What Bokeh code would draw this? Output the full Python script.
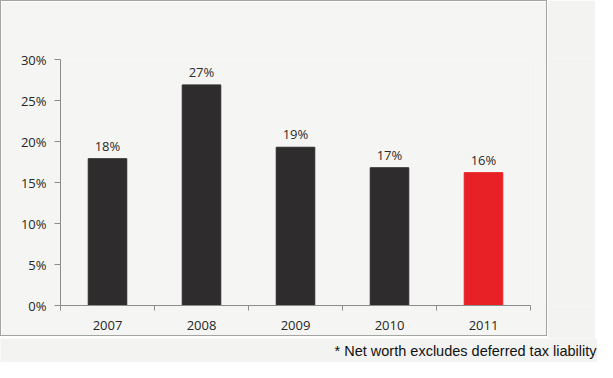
from bokeh.plotting import figure
from bokeh.models import (Range1d, FixedTicker, PrintfTickFormatter, CustomJSTickFormatter,
                          Label, LabelSet, ColumnDataSource)
from bokeh.layouts import column, row
from bokeh.core.properties import value
from bokeh.embed import file_html
from bokeh.resources import INLINE
import numpy as np

years = ["2007", "2008", "2009", "2010", "2011"]
values = [17.9, 26.9, 19.3, 16.8, 16.2]
bar_colors = ["#2e2c2d", "#2e2c2d", "#2e2c2d", "#2e2c2d", "#e82127"]
value_labels = [f"{round(v)}%" for v in values]
y_ticks = [0, 5, 10, 15, 20, 25, 30]
footnote = "* Net worth excludes deferred tax liability"

xs = list(np.arange(len(years)) + 0.5)
bounds = list(range(len(years) + 1))

page_bg = "#f3f3f1"
box_bg = "#f5f6f3"

src = ColumnDataSource(dict(x=xs, top=values, color=bar_colors, label=value_labels))

p = figure(width=547, height=336, output_backend="svg", toolbar_location=None,
           x_range=Range1d(0, len(years)), y_range=Range1d(0, 30),
           min_border_left=59, min_border_right=18, min_border_top=58, min_border_bottom=32,
           styles={"border": "1px solid #a2a5a2"})
p.outline_line_color = None
p.grid.visible = False
p.background_fill_color = box_bg
p.border_fill_color = box_bg

p.vbar(x="x", top="top", width=0.41, color="color", source=src)

labels = LabelSet(x="x", y="top", text="label", source=src, text_align="center",
                  text_baseline="alphabetic", y_offset=8,
                  text_font=value("Open Sans"), text_font_size=value("13px"),
                  text_color=value("#2b2b2b"))
p.add_layout(labels)

axis_col = "#8c8c8c"
lbl_col = "#262626"

xa = p.xaxis[0]
xa.ticker = FixedTicker(ticks=xs, minor_ticks=bounds)
xa.formatter = CustomJSTickFormatter(args=dict(years=years),
                                     code="return years[Math.floor(tick)];")
xa.axis_line_color = axis_col
xa.major_tick_line_color = None
xa.minor_tick_line_color = axis_col
xa.minor_tick_in = 0
xa.minor_tick_out = 5
xa.major_label_standoff = 9
xa.major_label_text_font = "Open Sans"
xa.major_label_text_font_size = "13px"
xa.major_label_text_color = lbl_col

ya = p.yaxis[0]
ya.ticker = FixedTicker(ticks=y_ticks, minor_ticks=[])
ya.formatter = PrintfTickFormatter(format="%d%%")
ya.axis_line_color = axis_col
ya.major_tick_line_color = axis_col
ya.major_tick_in = 0
ya.major_tick_out = 6
ya.minor_tick_line_color = None
ya.major_label_standoff = 8
ya.major_label_text_font = "Open Sans"
ya.major_label_text_font_size = "13px"
ya.major_label_text_color = lbl_col

# background strip to the right of the box
s = figure(width=48, height=338, output_backend="svg", toolbar_location=None,
           x_axis_location=None, y_axis_location=None, min_border=0,
           x_range=Range1d(0, 1), y_range=Range1d(0, 1))
s.grid.visible = False
s.outline_line_color = None
s.background_fill_color = page_bg
s.border_fill_color = page_bg

# footnote strip below the box
q = figure(width=597, height=24, output_backend="svg", toolbar_location=None,
           x_axis_location=None, y_axis_location=None, min_border=0,
           x_range=Range1d(0, 1), y_range=Range1d(0, 1))
q.grid.visible = False
q.outline_line_color = None
q.background_fill_color = page_bg
q.border_fill_color = page_bg
note = Label(x=596, y=12, x_units="screen", y_units="screen", text=footnote,
             text_align="right", text_baseline="middle",
             text_font="Liberation Sans", text_font_size="14.5px", text_color="#111111")
q.add_layout(note)

layout = column(row(p, s, spacing=0), q, spacing=0)

open("out.html", "w").write(file_html(layout, INLINE))
